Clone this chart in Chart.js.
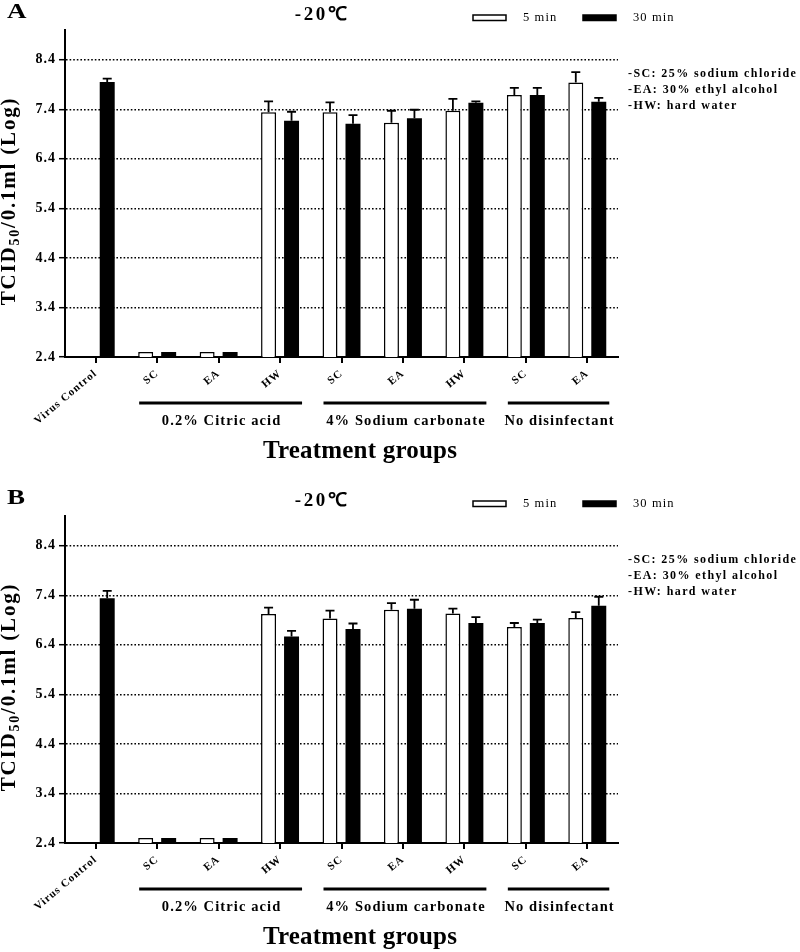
<!DOCTYPE html>
<html><head><meta charset="utf-8">
<script src="https://cdn.jsdelivr.net/npm/chart.js@4.4.0/dist/chart.umd.min.js"></script>
<style>
html,body{margin:0;padding:0;background:#fff;width:800px;height:952px;overflow:hidden;position:relative}
.panel{position:absolute;left:0;width:800px;height:466px}
#pA{top:0}#pB{top:486px}
canvas{display:block}
</style></head><body>
<div class="panel" id="pA"><canvas id="cA" width="800" height="466"></canvas></div>
<div class="panel" id="pB"><canvas id="cB" width="800" height="466"></canvas></div>
<script>
// ---------------- data ----------------
const categories = ['Virus Control', 'SC', 'EA', 'HW', 'SC', 'EA', 'HW', 'SC', 'EA'];
const seriesLabels = ['5 min', '30 min'];

const panelA_5min      = [null, 2.5, 2.5, 7.34, 7.34, 7.13, 7.37, 7.69, 7.94];
const panelA_5min_err  = [0,    0,   0,   0.22, 0.20, 0.24, 0.24, 0.14, 0.21];
const panelA_30min     = [7.95, 2.5, 2.5, 7.17, 7.11, 7.22, 7.53, 7.69, 7.55];
const panelA_30min_err = [0.07, 0,   0,   0.18, 0.17, 0.17, 0.03, 0.14, 0.08];

const panelB_5min      = [null, 2.5, 2.5, 7.02, 6.93, 7.11, 7.03, 6.76, 6.94];
const panelB_5min_err  = [0,    0,   0,   0.13, 0.16, 0.13, 0.10, 0.08, 0.12];
const panelB_30min     = [7.34, 2.5, 2.5, 6.57, 6.72, 7.13, 6.84, 6.84, 7.19];
const panelB_30min_err = [0.15, 0,   0,   0.11, 0.11, 0.18, 0.12, 0.07, 0.18];

const yTicks = [2.4, 3.4, 4.4, 5.4, 6.4, 7.4, 8.4];
const yMin = 2.4, yMax = 9.0;

const groupNames = ['0.2% Citric acid', '4% Sodium carbonate', 'No disinfectant'];
const groupFirstIndex = [1, 4, 7];
const groupLastIndex  = [3, 6, 8];

const notes = ['-SC: 25% sodium chloride', '-EA: 30% ethyl alcohol', '-HW: hard water'];
const panelTitle = '-20\u2103';
const yTitleMain = 'TCID', yTitleSub = '50', yTitleRest = '/0.1ml (Log)';
const xTitle = 'Treatment groups';

// ---------------- drawing ----------------
const SERIF = "'Liberation Serif','Times New Roman',serif";
Chart.defaults.font.family = SERIF;
Chart.defaults.color = '#000';

function txt(ctx, s, x, y, o) {
  ctx.save();
  ctx.font = o.font; ctx.fillStyle = '#000';
  ctx.letterSpacing = (o.ls || 0) + 'px';
  ctx.textAlign = o.align || 'left';
  ctx.textBaseline = o.base || 'middle';
  ctx.translate(x, y);
  if (o.rot) ctx.rotate(o.rot);
  if (o.sx) ctx.scale(o.sx, 1);
  ctx.fillText(s, 0, 0);
  ctx.restore();
}

const spacingPlugin = {
  id: 'spacing',
  beforeDraw(chart) { chart.ctx.letterSpacing = '1px'; },
  beforeDatasetsDraw(chart) { chart.ctx.letterSpacing = '0px'; }
};

const errorBarPlugin = {
  id: 'errorBars',
  afterDatasetsDraw(chart) {
    const ctx = chart.ctx, y = chart.scales.y;
    chart.data.datasets.forEach((ds, di) => {
      const meta = chart.getDatasetMeta(di);
      meta.data.forEach((el, i) => {
        const v = ds.data[i], e = ds.errors[i];
        if (v == null || !e) return;
        const yt = y.getPixelForValue(v + e);
        ctx.save();
        ctx.strokeStyle = '#000'; ctx.lineWidth = 1.8;
        ctx.beginPath();
        ctx.moveTo(el.x, el.y); ctx.lineTo(el.x, yt);
        ctx.moveTo(el.x - 4.5, yt); ctx.lineTo(el.x + 4.5, yt);
        ctx.stroke();
        ctx.restore();
      });
    });
  }
};

const decorPlugin = {
  id: 'decor',
  afterDraw(chart, args, opts) {
    const ctx = chart.ctx, ca = chart.chartArea, x = chart.scales.x;
    // panel letter
    txt(ctx, opts.letter, 7, 13, {font: 'bold 20px ' + SERIF, sx: 1.35});
    // title
    txt(ctx, panelTitle, 322, 15, {font: 'bold 19px ' + SERIF, align: 'center', ls: 2.5});
    // legend
    const boxX = [473, 583], textX = [523, 633];
    chart.data.datasets.forEach((ds, i) => {
      ctx.save();
      ctx.fillStyle = ds.backgroundColor;
      ctx.fillRect(boxX[i], 15, 33, 5.5);
      ctx.strokeStyle = '#000'; ctx.lineWidth = 1.5;
      ctx.strokeRect(boxX[i], 15, 33, 5.5);
      ctx.restore();
      txt(ctx, ds.label, textX[i], 18, {font: '12.5px ' + SERIF, ls: 1.1});
    });
    // notes
    notes.forEach((n, i) => txt(ctx, n, 628, ca.top + 44 + 16 * i, {font: 'bold 12px ' + SERIF, ls: 1.4}));
    // group lines + labels
    groupNames.forEach((g, i) => {
      const x1 = x.getPixelForValue(groupFirstIndex[i]) - 18;
      const x2 = x.getPixelForValue(groupLastIndex[i]) + 22;
      ctx.save();
      ctx.strokeStyle = '#000'; ctx.lineWidth = 3;
      ctx.beginPath(); ctx.moveTo(x1, ca.bottom + 46); ctx.lineTo(x2, ca.bottom + 46); ctx.stroke();
      ctx.restore();
      txt(ctx, g, (x1 + x2) / 2 + 1, ca.bottom + 64, {font: 'bold 14.5px ' + SERIF, align: 'center', ls: 1.1});
    });
    // x title
    txt(ctx, xTitle, 360, ca.bottom + 95, {font: 'bold 25px ' + SERIF, align: 'center', ls: 0.2});
    // y title (rotated, with subscript)
    ctx.save();
    ctx.translate(10, 201);
    ctx.rotate(-Math.PI / 2);
    ctx.fillStyle = '#000';
    ctx.textAlign = 'left'; ctx.textBaseline = 'middle';
    ctx.letterSpacing = '1.8px';
    const fMain = 'bold 21px ' + SERIF, fSub = 'bold 14px ' + SERIF;
    ctx.font = fMain; const w1 = ctx.measureText(yTitleMain).width, w3 = ctx.measureText(yTitleRest).width;
    ctx.font = fSub; const w2 = ctx.measureText(yTitleSub).width;
    let cx = -(w1 + w2 + w3) / 2;
    ctx.font = fMain; ctx.fillText(yTitleMain, cx, 0); cx += w1;
    ctx.font = fSub; ctx.fillText(yTitleSub, cx, 5); cx += w2;
    ctx.font = fMain; ctx.fillText(yTitleRest, cx, 0);
    ctx.restore();
  }
};

function makeChart(id, letter, d5, e5, d30, e30) {
  return new Chart(document.getElementById(id), {
    type: 'bar',
    data: {
      labels: categories,
      datasets: [
        {label: seriesLabels[0], data: d5, errors: e5, backgroundColor: '#ffffff', borderColor: '#000', borderWidth: 1.5},
        {label: seriesLabels[1], data: d30, errors: e30, backgroundColor: '#000000', borderColor: '#000', borderWidth: 0}
      ]
    },
    options: {
      responsive: false, animation: false, devicePixelRatio: 1,
      layout: {padding: {top: 30, right: 182, left: 0, bottom: 0}},
      datasets: {bar: {categoryPercentage: 0.748, barPercentage: 0.652}},
      plugins: {
        legend: {display: false}, title: {display: false}, tooltip: {enabled: false},
        decor: {letter: letter}
      },
      scales: {
        x: {
          offset: true,
          afterFit: s => { s.height = 109; },
          grid: {display: true, offset: false, drawOnChartArea: false, drawTicks: true, tickLength: 6, color: '#000', lineWidth: 2},
          border: {display: true, color: '#000', width: 2},
          ticks: {autoSkip: false, minRotation: 40, maxRotation: 40, padding: 4, color: '#000', font: {size: 11, weight: 'bold'}}
        },
        y: {
          min: yMin, max: yMax,
          afterFit: s => { s.width = 65; },
          afterBuildTicks: s => { s.ticks = yTicks.map(v => ({value: v})); },
          grid: {
            color: c => (c.tick && c.tick.value === yTicks[0]) ? 'rgba(0,0,0,0)' : '#000',
            tickColor: '#000', tickWidth: 1.5, lineWidth: 1.4, tickLength: 6, drawTicks: true
          },
          border: {display: true, color: '#000', width: 2, dash: [1.6, 2]},
          ticks: {padding: 3, color: '#000', font: {size: 14, weight: 'bold'}, callback: v => Number(v).toFixed(1)}
        }
      }
    },
    plugins: [spacingPlugin, errorBarPlugin, decorPlugin]
  });
}

makeChart('cA', 'A', panelA_5min, panelA_5min_err, panelA_30min, panelA_30min_err);
makeChart('cB', 'B', panelB_5min, panelB_5min_err, panelB_30min, panelB_30min_err);
</script>
</body></html>
